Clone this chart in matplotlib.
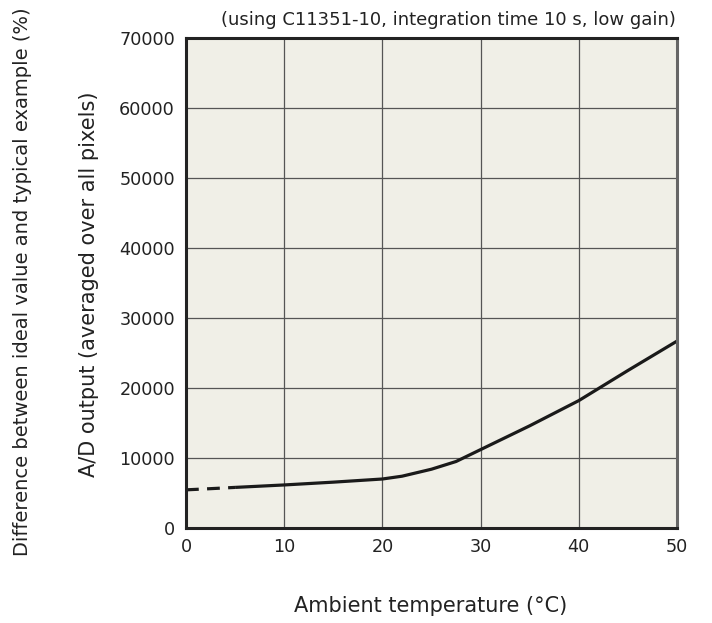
import matplotlib
matplotlib.use("Agg")
import matplotlib.pyplot as plt

temp_dashed = [0, 2.5, 5]
adc_dashed = [5450, 5620, 5800]
temp_solid = [5, 10, 15, 20, 22, 25, 27.5, 30, 35, 40, 45, 50]
adc_solid = [5800, 6150, 6550, 7000, 7400, 8400, 9500, 11200, 14600, 18200, 22500, 26700]

x_ticks = [0, 10, 20, 30, 40, 50]
y_ticks = [0, 10000, 20000, 30000, 40000, 50000, 60000, 70000]

plt.rcParams["font.family"] = ["DejaVu Sans"]

fig = plt.figure(figsize=(7.12, 6.23), dpi=100)
ax = fig.add_axes([186 / 712, 1 - 528 / 623, 491 / 712, 490 / 623])
ax.set_facecolor("#f0efe7")

ax.plot(temp_dashed, adc_dashed, color="#1a1a1a", lw=2.3, dashes=(4, 2.6))
ax.plot(temp_solid, adc_solid, color="#1a1a1a", lw=2.3, solid_capstyle="butt")

ax.set_xlim(0, 50)
ax.set_ylim(0, 70000)
ax.set_xticks(x_ticks)
ax.set_yticks(y_ticks)
ax.tick_params(length=0, labelsize=12.7, colors="#222222")
ax.tick_params(axis="x", pad=7)
ax.tick_params(axis="y", pad=8)
ax.grid(True, color="#555555", lw=0.9)
ax.set_axisbelow(True)

for side in ["left", "bottom", "top"]:
    ax.spines[side].set_color("#222222")
    ax.spines[side].set_linewidth(2.2)
ax.spines["right"].set_color("#666666")
ax.spines["right"].set_linewidth(2.2)

fig.text(431 / 712, 1 - 606 / 623, "Ambient temperature (°C)", ha="center", va="center",
         fontsize=15, color="#222222")
fig.text(89 / 712, 1 - 284 / 623, "A/D output (averaged over all pixels)", rotation=90,
         ha="center", va="center", fontsize=15, color="#222222")
fig.text(23 / 712, 1 - 282 / 623, "Difference between ideal value and typical example (%)",
         rotation=90, ha="center", va="center", fontsize=14, color="#222222")
fig.text(676 / 712, 1 - 20 / 623, "(using C11351-10, integration time 10 s, low gain)",
         ha="right", va="center", fontsize=13, color="#222222")

fig.savefig("out.png", dpi=100, facecolor="white")
